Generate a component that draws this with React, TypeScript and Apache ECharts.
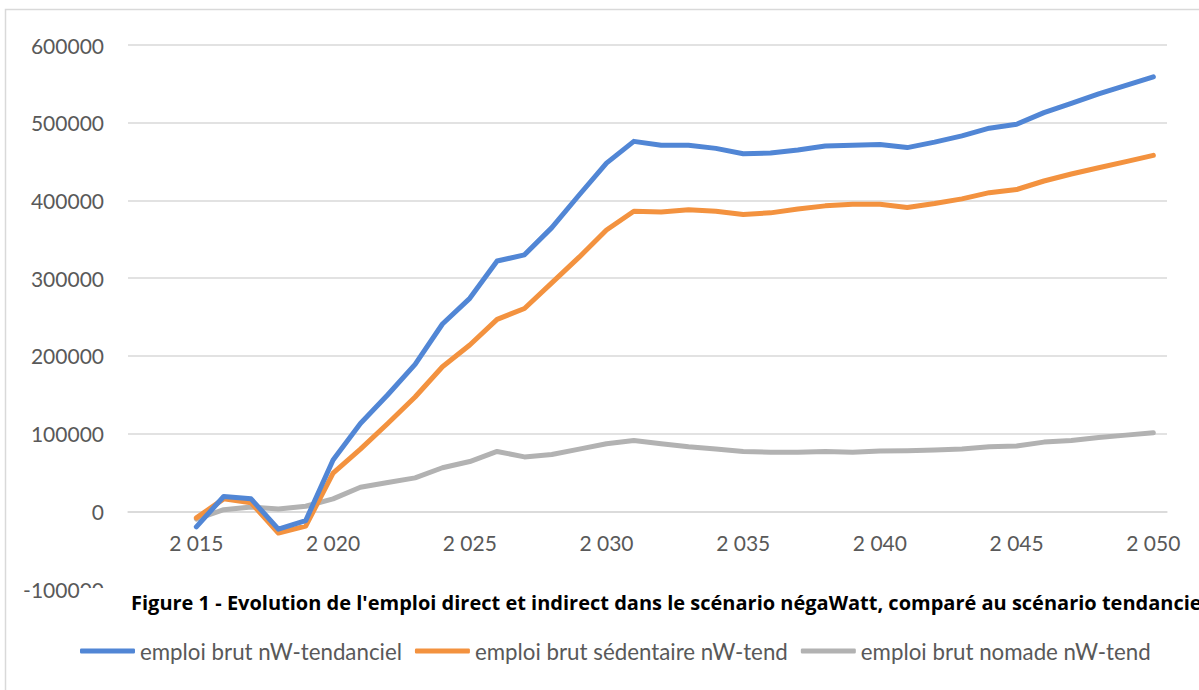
import React, { useEffect, useRef } from "react";
import * as echarts from "echarts";

const years = [
  2013, 2014, 2015, 2016, 2017, 2018, 2019, 2020, 2021, 2022, 2023, 2024, 2025,
  2026, 2027, 2028, 2029, 2030, 2031, 2032, 2033, 2034, 2035, 2036, 2037, 2038,
  2039, 2040, 2041, 2042, 2043, 2044, 2045, 2046, 2047, 2048, 2049, 2050,
];

const tendanciel = [
  null, null, -20000, 19000, 16000, -23000, -12000, 66000, 113000, 150000,
  189000, 241000, 274000, 322000, 330000, 365000, 407000, 448000, 476000,
  471000, 471000, 467000, 460000, 461000, 465000, 470000, 471000, 472000,
  468000, 475000, 483000, 493000, 498000, 513000, 525000, 537000, 548000, 559000,
];

const sedentaire = [
  null, null, -8500, 16000, 11000, -28000, -19000, 49000, 80000, 113000,
  147000, 186000, 214000, 247000, 261000, 294000, 327000, 362000, 386000,
  385000, 388000, 386000, 382000, 384000, 389000, 393000, 395000, 395000,
  391000, 396000, 402000, 410000, 414000, 425000, 434000, 442000, 450000, 458000,
];

const nomade = [
  null, null, -10000, 2000, 5500, 3000, 6500, 16000, 31000, 37000, 43000,
  56000, 64000, 77000, 70000, 73000, 80000, 87000, 91000, 87000, 83000, 80000,
  77000, 76000, 76000, 77000, 76000, 77500, 78000, 79000, 80000, 83000, 84000,
  89000, 91000, 95000, 98000, 101000,
];

const seriesNames = [
  "emploi brut nW-tendanciel",
  "emploi brut sédentaire nW-tend",
  "emploi brut nomade nW-tend",
];
const seriesColors = ["#5186d5", "#f3923f", "#b2b2b2"];
const caption =
  "Figure 1 - Evolution de l'emploi direct et indirect dans le scénario négaWatt, comparé au scénario tendanciel";

const FONT = "Lato, 'Open Sans', sans-serif";

export default function App() {
  const ref = useRef<HTMLDivElement>(null);

  useEffect(() => {
    if (!ref.current) return;
    const chart = echarts.init(ref.current, undefined, { renderer: "svg" });
    const allData = [tendanciel, sedentaire, nomade];
    const gridTop = 45;
    const gridBottom = 101;
    const plotH = 690 - gridTop - gridBottom;
    const zeroOffset = -(plotH / 7);
    chart.setOption({
      animation: false,
      backgroundColor: "#ffffff",
      textStyle: { fontFamily: FONT },
      grid: { left: 128, right: 32, top: gridTop, bottom: gridBottom, containLabel: false },
      xAxis: {
        type: "category",
        data: years.map(String),
        boundaryGap: true,
        position: "bottom",
        offset: zeroOffset,
        axisLine: { onZero: false, lineStyle: { color: "#d9d9d9", width: 1.5 } },
        axisTick: { show: false },
        axisLabel: {
          interval: (i: number, v: string) => Number(v) % 5 === 0,
          formatter: (v: string) => v.slice(0, 1) + " " + v.slice(1),
          color: "#595959",
          fontSize: 21,
          fontFamily: FONT,
          margin: 21,
        },
        splitLine: { show: false },
      },
      yAxis: {
        type: "value",
        min: -100000,
        max: 600000,
        interval: 100000,
        axisLine: { show: false },
        axisTick: { show: false },
        axisLabel: {
          color: "#595959",
          fontSize: 21,
          fontFamily: FONT,
          margin: 24,
          formatter: (v: number) => String(v),
        },
        splitLine: { lineStyle: { color: "#d9d9d9", width: 1.5 } },
      },
      legend: {
        left: 80,
        top: 640,
        padding: 0,
        itemWidth: 55,
        itemHeight: 5,
        itemGap: 13,
        icon: "roundRect",
        textStyle: { color: "#595959", fontSize: 22.3, fontFamily: FONT },
        data: seriesNames,
      },
      series: seriesNames.map((name, i) => ({
        name,
        type: "line",
        data: allData[i],
        symbol: "none",
        showSymbol: false,
        color: seriesColors[i],
        lineStyle: { width: 5, color: seriesColors[i], cap: "round", join: "round" },
        z: 3 + (2 - i),
      })),
      graphic: [
        {
          type: "rect",
          z: 100,
          silent: true,
          shape: { x: 5.5, y: 9.5, width: 1400, height: 900 },
          style: { fill: "none", stroke: "#d9d9d9", lineWidth: 1.5 },
        },
        {
          type: "rect",
          z: 101,
          silent: true,
          shape: { x: 80, y: 588, width: 1130, height: 28 },
          style: { fill: "#ffffff" },
        },
        {
          type: "text",
          z: 102,
          silent: true,
          x: 131,
          y: 602,
          style: {
            text: caption,
            fill: "#000000",
            font: "bold 20px 'Open Sans', sans-serif",
            verticalAlign: "middle",
          },
        },
      ],
    });
    return () => chart.dispose();
  }, []);

  return (
    <div
      ref={ref}
      style={{ position: "absolute", left: 0, top: 0, width: 1199, height: 690 }}
    />
  );
}
